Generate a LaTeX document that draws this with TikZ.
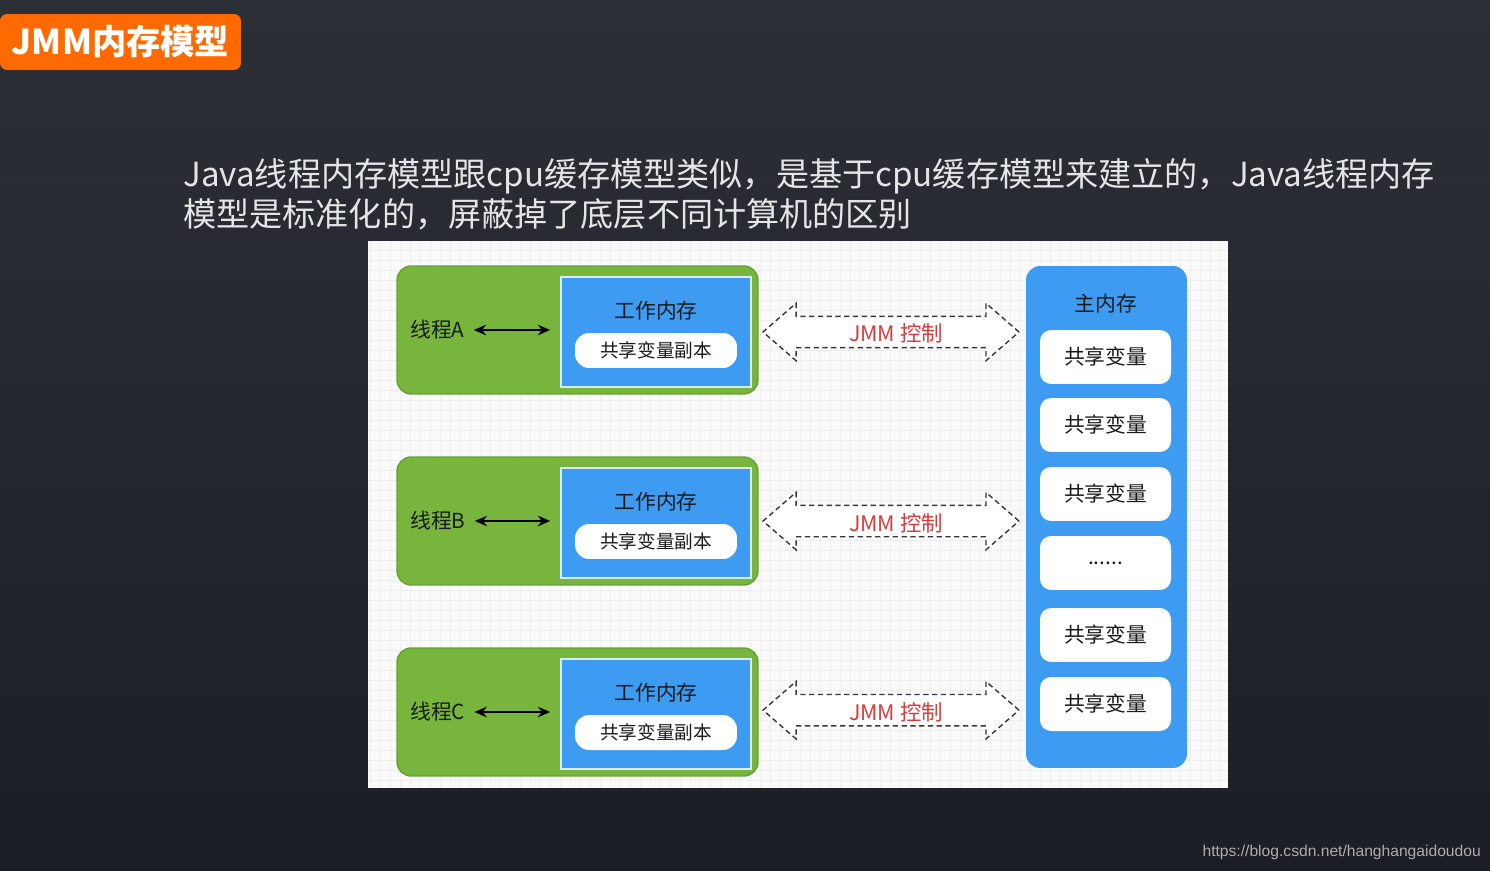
\documentclass[tikz,border=0pt]{standalone}
\usepackage{fontspec}
\setmainfont{Noto Sans CJK SC}
\newfontfamily\urlfont{Liberation Sans}
\usetikzlibrary{positioning,shapes.arrows,arrows.meta}
\definecolor{bgtop}{HTML}{2D2F36}
\definecolor{bgbot}{HTML}{1C1E25}
\definecolor{jmmorange}{HTML}{FF6A00}
\definecolor{threadgreen}{HTML}{77B53D}
\definecolor{memblue}{HTML}{3D9CF2}
\definecolor{ctrlred}{HTML}{D93A3A}
\definecolor{gridgray}{HTML}{EEEEEE}
\definecolor{textdark}{HTML}{1A1A1A}
\newcommand{\moredots}{......}

\tikzset{
  threadbox/.style={fill=threadgreen, draw=threadgreen!88!black, line width=0.8pt,
    rounded corners=8pt, minimum width=7.22cm, minimum height=2.56cm},
  workbox/.style={fill=memblue, draw=white!80!memblue, line width=1pt,
    minimum width=3.8cm, minimum height=2.2cm},
  copypill/.style={fill=white, rounded corners=0.28cm, minimum width=3.24cm,
    minimum height=0.7cm, text=textdark, font=\fontsize{10.6}{12}\selectfont},
  varbox/.style={fill=white, rounded corners=0.22cm, minimum width=2.62cm,
    minimum height=1.08cm, text=textdark, font=\fontsize{11.8}{13}\selectfont},
  boxtitle/.style={text=textdark, font=\fontsize{11.8}{13}\selectfont},
  ctrlarrow/.style={double arrow, draw=black!78, fill=white, dash pattern=on 3pt off 2pt,
    line width=0.8pt, minimum height=5.12cm, double arrow head extend=0.26cm,
    double arrow tip angle=82, inner ysep=0pt, text height=0.50cm, text depth=0.10cm,
    text=ctrlred, font=\fontsize{12.2}{13}\selectfont},
  syncarrow/.style={{Stealth[length=7pt,width=6pt]}-{Stealth[length=7pt,width=6pt]}, line width=1.1pt, black}
}

\begin{document}
\begin{tikzpicture}[x=0.02cm, y=-0.02cm]
  % background
  \shade[top color=bgtop, bottom color=bgbot] (0,0) rectangle (1490,871);
  \useasboundingbox (0,0) rectangle (1490,871);

  % title
  \node[fill=jmmorange, rounded corners=4pt, minimum width=4.82cm, minimum height=1.12cm,
    text=white, font=\fontsize{19.5}{21}\selectfont\bfseries] (title) at (120.5,42) {JMM内存模型};

  % description
  \node[anchor=north west, inner sep=0pt, align=left, text=white!90!black,
    font=\fontsize{18.85}{22.7}\selectfont] (desc) at (183,158)
    {Java线程内存模型跟cpu缓存模型类似，是基于cpu缓存模型来建立的，Java线程内存\\
     模型是标准化的，屏蔽掉了底层不同计算机的区别};

  % diagram panel
  \fill[white!98!black] (368,241) rectangle (1228,788);
  \draw[gridgray, line width=0.25pt, step=0.2cm] (368,241) grid (1228,788);

  % threads and working memory
  \foreach \n/\dy in {A/0,B/191,C/382}{
    \node[threadbox] (thread\n) at (577.5,330+\dy) {};
    \node[workbox] (work\n) at (656,332+\dy) {};
    \node[boxtitle] (worktitle\n) at (656,311+\dy) {工作内存};
    \node[copypill] (copy\n) at (656,350.5+\dy) {共享变量副本};
    \node[boxtitle, anchor=west, inner sep=0pt] (label\n) at (410,330+\dy) {线程\n};
    \draw[syncarrow, shorten <=0.18cm, shorten >=0.2cm] (label\n.east) -- (label\n.east -| work\n.west);
    \node[ctrlarrow] (ctrl\n) at (891,332+\dy*0.99) {\hspace{0.2cm}JMM 控制};
  }

  % main memory
  \node[fill=memblue, rounded corners=8pt, minimum width=3.22cm, minimum height=10.04cm] (mainmem) at (1106.5,517) {};
  \node[boxtitle] (maintitle) at (1106,304) {主内存};
  \foreach \y/\t [count=\i] in {357/共享变量, 425/共享变量, 494/共享变量, 563/\moredots, 635/共享变量, 704/共享变量}{
    \node[varbox] (var\i) at (1105.5,\y) {\t};
  }

  % watermark
  \node[anchor=east, text=white!68!black, font=\urlfont\fontsize{8.9}{10}\selectfont] (mark) at (1487,852)
    {https://blog.csdn.net/hanghangaidoudou};
\end{tikzpicture}
\end{document}
